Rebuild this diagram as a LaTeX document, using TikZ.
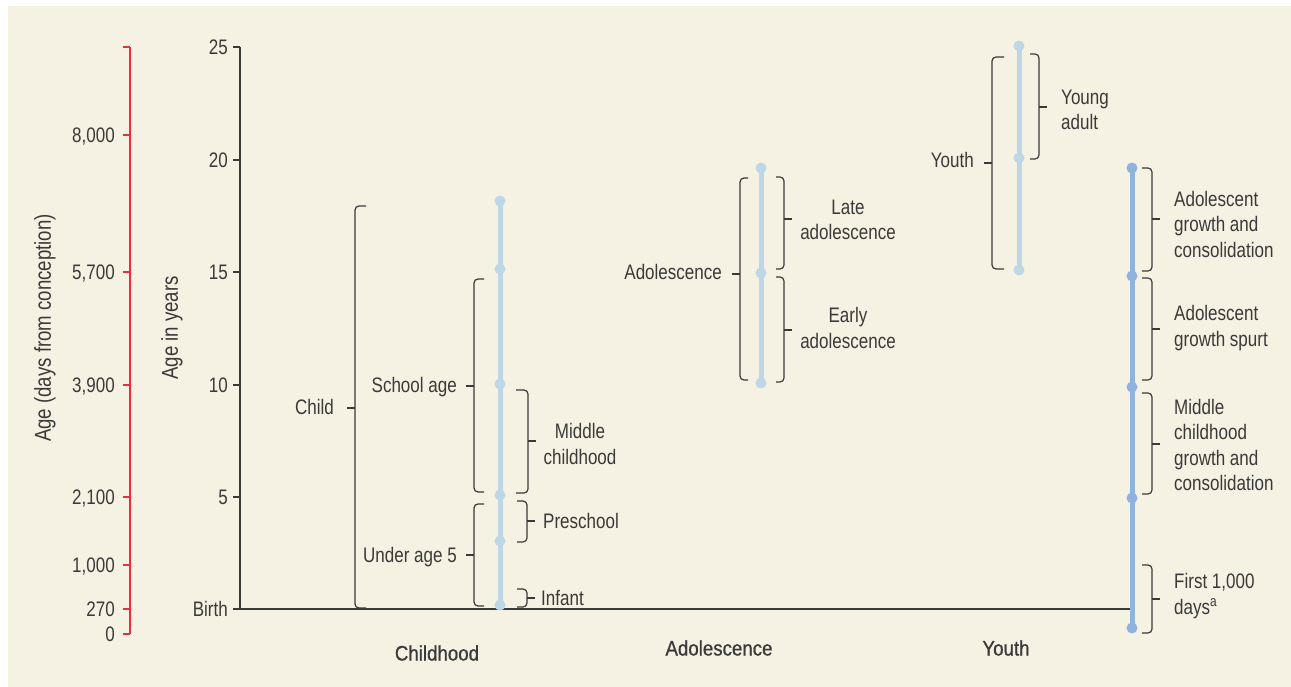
\documentclass[tikz,border=0pt]{standalone}
\usepackage{fontspec}
\setmainfont{Liberation Sans}[FakeStretch=0.81]
\newfontfamily\headfont{Liberation Sans}[FakeStretch=0.89, FakeBold=0.8]
\usepackage{tikz}
\usetikzlibrary{calc}
\definecolor{paper}{HTML}{F5F1E3}
\definecolor{inkgray}{HTML}{3A3A3A}
\definecolor{axisred}{HTML}{E8303A}
\definecolor{paleblue}{HTML}{BDD7E6}
\definecolor{midblue}{HTML}{8DB3DE}
\newcommand{\OpenBracket}[5]{
	\def\bx{#1}
	\def\btop{#2}
	\def\bbot{#3}
	\def\bmid{#4}
	\def\bend{#5}
	\draw[bracket] (\bx+\bend,\btop) -- (\bx,\btop) -- (\bx,\bbot) -- (\bx+\bend,\bbot);
	\draw[bracket] (\bx,\bmid) -- +(-8,0);
}
\newcommand{\CloseBracket}[5]{
	\def\bx{#1}
	\def\btop{#2}
	\def\bbot{#3}
	\def\bmid{#4}
	\def\bend{#5}
	\draw[bracket] (\bx-\bend,\btop) -- (\bx,\btop) -- (\bx,\bbot) -- (\bx-\bend,\bbot);
	\draw[bracket] (\bx,\bmid) -- +(8,0);
}

\begin{document}
\begin{tikzpicture}[x=1pt, y=-1pt, line cap=butt,
		txt/.style={inkgray, inner sep=0pt, font=\fontsize{21}{25.5}\selectfont},
		lbl/.style={txt, text height=15pt, text depth=0pt},
		axtitle/.style={inkgray, inner sep=0pt, rotate=90, font=\fontsize{23}{26}\selectfont},
		head/.style={inkgray, inner sep=0pt, font=\fontsize{21}{24}\selectfont\headfont},
		bracket/.style={inkgray, line width=1.2pt, rounded corners=4pt},
		paleline/.style={paleblue, line width=5pt},
		darkline/.style={midblue, line width=5pt}
	]

	\useasboundingbox (0,0) rectangle (1291,687);
	\fill[white] (0,0) rectangle (1291,687);
	\fill[paper] (8,6) rectangle (1291,687);

	% days axis
	\draw[axisred, line width=1.2pt] (130,47) -- (130,634);
	\draw[axisred, line width=1.2pt] (123,47) -- (130,47);
	\foreach \yy/\lab in {135/{8,000}, 272/{5,700}, 385/{3,900}, 497/{2,100}, 565/{1,000}, 609/{270}, 634/{0}}{
		\draw[axisred, line width=1.2pt] (123,\yy) -- (130,\yy);
		\node[lbl, anchor=east] at (115,\yy) {\lab};
	}
	\node[axtitle] (daystitle) at (45,328) {Age (days from conception)};

	% years axis
	\draw[inkgray, line width=1.2pt] (240,47) -- (240,609) -- (1130,609);
	\foreach \yy/\lab in {47/25, 160/20, 272/15, 385/10, 497/5, 609/Birth}{
		\draw[inkgray, line width=1.2pt] (233,\yy) -- (240,\yy);
		\node[lbl, anchor=east] at (228,\yy) {\lab};
	}
	\node[axtitle] (yearstitle) at (172,328) {Age in years};

	% timelines
	\draw[paleline] (500,201) -- (500,605);
	\foreach \yy in {201,269,384,495,541,605}
		\fill[paleblue] (500,\yy) circle (5.5);
	\draw[paleline] (761,168) -- (761,383);
	\foreach \yy in {168,273,383}
		\fill[paleblue] (761,\yy) circle (5.5);
	\draw[paleline] (1019,46) -- (1019,270);
	\foreach \yy in {46,158,270}
		\fill[paleblue] (1019,\yy) circle (5.5);
	\draw[darkline] (1132,168) -- (1132,628);
	\foreach \yy in {168,276,387,498,628}
		\fill[midblue] (1132,\yy) circle (5.5);

	% childhood
	\OpenBracket{355}{206}{608}{408}{11}
	\OpenBracket{474}{279}{492}{386}{10}
	\OpenBracket{474}{504}{606}{555}{10}
	\CloseBracket{528}{390}{493}{441}{12}
	\CloseBracket{527}{501}{542}{521}{10}
	\CloseBracket{527}{589}{607}{598}{10}
	\node[lbl, anchor=east] (child) at (334,407) {Child};
	\node[lbl, anchor=east] (schoolage) at (457,385) {School age};
	\node[lbl, anchor=east] (under5) at (457,555) {Under age 5};
	\node[txt, align=center] (middle) at (580,444) {Middle\\childhood};
	\node[lbl, anchor=west] (preschool) at (543,521) {Preschool};
	\node[lbl, anchor=west] (infant) at (541,598) {Infant};

	% adolescence
	\OpenBracket{740}{178}{380}{274}{8}
	\CloseBracket{784}{177}{269}{219}{8}
	\CloseBracket{784}{277}{382}{330}{8}
	\node[lbl, anchor=east] (adolescence) at (722,272) {Adolescence};
	\node[txt, align=center] (late) at (848,220) {Late\\adolescence};
	\node[txt, align=center] (early) at (848,328) {Early\\adolescence};

	% youth
	\OpenBracket{992}{57}{269}{163}{12}
	\CloseBracket{1039}{54}{159}{107}{9}
	\node[lbl, anchor=east] (youth) at (974,160) {Youth};
	\node[txt, anchor=west, align=left] (youngadult) at (1061,110) {Young\\adult};

	% growth phases
	\CloseBracket{1152}{168}{271}{219}{10}
	\CloseBracket{1152}{278}{380}{329}{10}
	\CloseBracket{1152}{393}{494}{444}{10}
	\CloseBracket{1152}{565}{633}{599}{10}
	\node[txt, anchor=west, align=left] (adolconsol) at (1174,224) {Adolescent\\growth and\\consolidation};
	\node[txt, anchor=west, align=left] (spurt) at (1174,328) {Adolescent\\growth spurt};
	\node[txt, anchor=west, align=left] (midconsol) at (1174,445) {Middle\\childhood\\growth and\\consolidation};
	\node[txt, anchor=west, align=left] (first1000) at (1174,596) {First 1,000\\days\textsuperscript{a}};

	% stage names
	\node[head] (childhood) at (437,653) {Childhood};
	\node[head] (adolhead) at (719,648) {Adolescence};
	\node[head] (youthhead) at (1006,648) {Youth};

\end{tikzpicture}
\end{document}
